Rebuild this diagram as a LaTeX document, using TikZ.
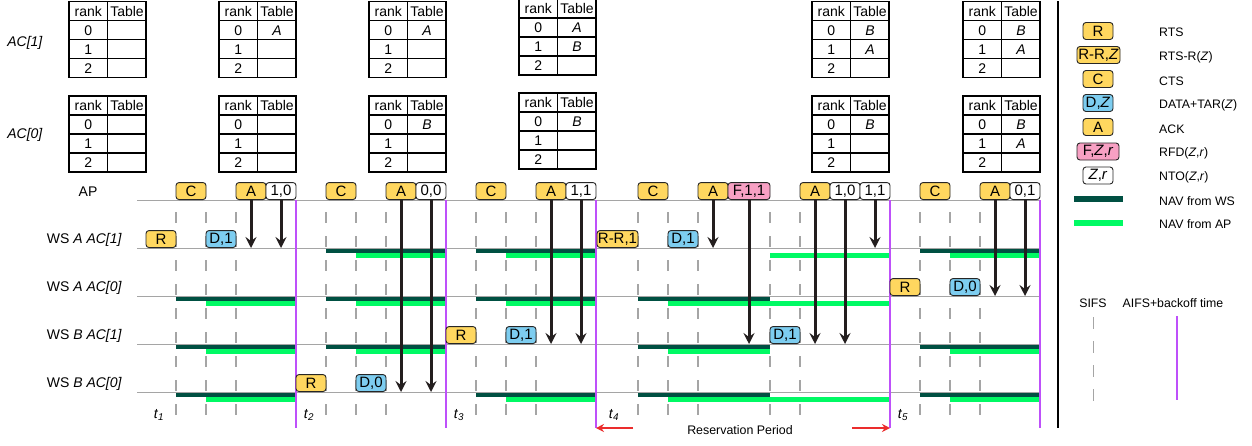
\documentclass[tikz,border=0pt]{standalone}
\usepackage{fontspec}
\setmainfont{Liberation Sans}
\usetikzlibrary{arrows.meta}
\definecolor{yel}{RGB}{255,215,95}
\definecolor{blu}{RGB}{125,205,240}
\definecolor{pnk}{RGB}{247,160,195}
\definecolor{navws}{RGB}{0,80,66}
\definecolor{navap}{RGB}{0,250,100}
\definecolor{purp}{RGB}{190,80,250}
\definecolor{redar}{RGB}{235,45,45}
\definecolor{rowgray}{RGB}{165,165,165}
\definecolor{arrblk}{RGB}{35,30,30}
\newcommand{\pktf}{\fontsize{15}{17}\selectfont}
\newcommand{\tabf}{\fontsize{14}{16}\selectfont}
\newcommand{\lblf}{\fontsize{14}{16}\selectfont}
\newcommand{\lgf}{\fontsize{12.3}{14}\selectfont}
\tikzset{
  pkt/.style={draw=black!85, line width=0.9pt, rounded corners=3pt, minimum height=17pt, minimum width=30pt, inner sep=0pt, font=\pktf, anchor=south},
  rowline/.style={draw=rowgray, line width=1pt},
  sifs/.style={draw=rowgray, line width=1.1pt, dash pattern=on 11pt off 13pt},
  aifs/.style={draw=purp, line width=1.4pt},
  arr/.style={draw=arrblk, line width=3pt, -{Stealth[length=11pt,width=11pt,inset=4pt]}},
  redarr/.style={draw=redar, line width=1.6pt, -{Stealth[length=8pt,width=8pt]}},
  tbl/.style={draw=black, line width=1.2pt},
  tt/.style={font=\tabf, inner sep=0pt},
  rl/.style={font=\lblf, inner sep=0pt},
  lg/.style={font=\lgf, inner sep=0pt, anchor=west},
}
\newcommand{\rtab}[6]{%
  \draw[tbl] (#1,#2) rectangle ++(77,76);
  \draw[tbl] (#1+38.7,#2) -- ++(0,76);
  \foreach \k in {19,38,57} \draw[tbl] (#1,#2+\k) -- ++(77,0);
  \node[tt] (#3h1) at (#1+19.35,#2+9.7) {rank};
  \node[tt] (#3h2) at (#1+58,#2+9.7) {Table};
  \node[tt] (#3r0) at (#1+19.35,#2+28.7) {0};
  \node[tt] (#3r1) at (#1+19.35,#2+47.7) {1};
  \node[tt] (#3r2) at (#1+19.35,#2+66.7) {2};
  \node[tt] (#3v0) at (#1+58,#2+28.7) {\textit{#4}};
  \node[tt] (#3v1) at (#1+58,#2+47.7) {\textit{#5}};
  \node[tt] (#3v2) at (#1+58,#2+66.7) {\textit{#6}};
}
\begin{document}
\begin{tikzpicture}[x=1pt,y=-1pt]
\useasboundingbox (0,0) rectangle (1252,445);
\fill[white] (0,0) rectangle (1252,445);

% ---------- tables ----------
\node[rl] (lac1) at (25,43) {\textit{AC[1]}};
\node[rl] (lac0) at (25,135) {\textit{AC[0]}};
\rtab{69}{1.5}{ta}{}{}{}
\rtab{69}{96}{tb}{}{}{}
\rtab{219}{1.5}{tc}{A}{}{}
\rtab{219}{96}{td}{}{}{}
\rtab{369}{1.5}{te}{A}{}{}
\rtab{369}{96}{tf}{B}{}{}
\rtab{519}{-1}{tg}{A}{B}{}
\rtab{519}{93}{th}{B}{}{}
\rtab{812}{1.5}{ti}{B}{A}{}
\rtab{812}{96}{tj}{B}{}{}
\rtab{963}{1.5}{tk}{B}{A}{}
\rtab{963}{96}{tl}{B}{A}{}

% ---------- row labels ----------
\node[rl] (lap) at (88,191.5) {AP};
\node[rl,anchor=east] (lwa1) at (122,239.5) {WS \textit{A AC[1]}};
\node[rl,anchor=east] (lwa0) at (122,287.5) {WS \textit{A AC[0]}};
\node[rl,anchor=east] (lwb1) at (122,335.5) {WS \textit{B AC[1]}};
\node[rl,anchor=east] (lwb0) at (122,383.5) {WS \textit{B AC[0]}};

% ---------- SIFS dashes ----------
\foreach \x in {176,206,236,326,356,386,476,506,536,638,668,698,770,800,920,950,980}
  \draw[sifs] (\x,212) -- (\x,417);

% ---------- row lines ----------
\coordinate (rAP) at (137,200);
\coordinate (rA1) at (137,248);
\coordinate (rA0) at (137,296);
\coordinate (rB1) at (137,344);
\coordinate (rB0) at (137,392);
\foreach \r in {rAP,rA1,rA0,rB1,rB0}
  \draw[rowline] (\r) -- (\r -| 1040,0);

% ---------- NAV bars ----------
% period 1
\foreach \y in {296,344,392}{
  \fill[navws] (176,\y+0.5) rectangle (296,\y+5);
  \fill[navap] (206,\y+5) rectangle (296,\y+10);}
% period 2
\foreach \y in {248,296,344}{
  \fill[navws] (326,\y+0.5) rectangle (446,\y+5);
  \fill[navap] (356,\y+5) rectangle (446,\y+10);}
% period 3
\foreach \y in {248,296,392}{
  \fill[navws] (476,\y+0.5) rectangle (596,\y+5);
  \fill[navap] (506,\y+5) rectangle (596,\y+10);}
% period 4
\fill[navap] (770,253) rectangle (890,258);
\fill[navws] (638,296.5) rectangle (770,301);
\fill[navap] (668,301) rectangle (890,306);
\fill[navws] (638,344.5) rectangle (770,349);
\fill[navap] (668,349) rectangle (770,354);
\fill[navws] (638,392.5) rectangle (770,397);
\fill[navap] (668,397) rectangle (890,402);
% period 5
\foreach \y in {248,344,392}{
  \fill[navws] (920,\y+0.5) rectangle (1040,\y+5);
  \fill[navap] (950,\y+5) rectangle (1040,\y+10);}

% ---------- AIFS lines ----------
\foreach \n/\x in {1/296,2/446,3/596,4/890,5/1040}{
  \coordinate (v\n t) at (\x,200);
  \coordinate (v\n b) at (\x,428);
  \draw[aifs] (v\n t) -- (v\n b);}

% ---------- packets ----------
% period 1
\node[pkt,fill=yel] (p1R) at (161,248) {R};
\node[pkt,fill=yel] (p1C) at (191,200) {C};
\node[pkt,fill=blu] (p1D) at (221,248) {D,1};
\node[pkt,fill=yel] (p1A) at (251,200) {A};
\node[pkt,fill=white] (p1N) at (281,200) {1,0};
% period 2
\node[pkt,fill=yel] (p2R) at (311,392) {R};
\node[pkt,fill=yel] (p2C) at (341,200) {C};
\node[pkt,fill=blu] (p2D) at (371,392) {D,0};
\node[pkt,fill=yel] (p2A) at (401,200) {A};
\node[pkt,fill=white] (p2N) at (431,200) {0,0};
% period 3
\node[pkt,fill=yel] (p3R) at (461,344) {R};
\node[pkt,fill=yel] (p3C) at (491,200) {C};
\node[pkt,fill=blu] (p3D) at (521,344) {D,1};
\node[pkt,fill=yel] (p3A) at (551,200) {A};
\node[pkt,fill=white] (p3N) at (581,200) {1,1};
% period 4
\node[pkt,fill=yel,minimum width=41pt] (p4RR) at (617.5,248) {R-R,1};
\node[pkt,fill=yel] (p4C) at (653,200) {C};
\node[pkt,fill=blu] (p4D) at (683,248) {D,1};
\node[pkt,fill=yel] (p4A) at (713,200) {A};
\node[pkt,fill=pnk,minimum width=42pt] (p4F) at (749,200) {F,1,1};
\node[pkt,fill=blu] (p4D2) at (785,344) {D,1};
\node[pkt,fill=yel] (p4A2) at (815,200) {A};
\node[pkt,fill=white] (p4N1) at (845,200) {1,0};
\node[pkt,fill=white] (p4N2) at (875,200) {1,1};
% period 5
\node[pkt,fill=yel] (p5R) at (905,296) {R};
\node[pkt,fill=yel] (p5C) at (935,200) {C};
\node[pkt,fill=blu] (p5D) at (965,296) {D,0};
\node[pkt,fill=yel] (p5A) at (995,200) {A};
\node[pkt,fill=white] (p5N) at (1025,200) {0,1};

% ---------- arrows ----------
\draw[arr] (p1A.south) -- (p1A.south |- rA1);
\draw[arr] (p1N.south) -- (p1N.south |- rA1);
\draw[arr] (p2A.south) -- (p2A.south |- rB0);
\draw[arr] (p2N.south) -- (p2N.south |- rB0);
\draw[arr] (p3A.south) -- (p3A.south |- rB1);
\draw[arr] (p3N.south) -- (p3N.south |- rB1);
\draw[arr] (p4A.south) -- (p4A.south |- rA1);
\draw[arr] (p4F.south) -- (p4F.south |- rB1);
\draw[arr] (p4A2.south) -- (p4A2.south |- rB1);
\draw[arr] (p4N1.south) -- (p4N1.south |- rB1);
\draw[arr] (p4N2.south) -- (p4N2.south |- rA1);
\draw[arr] (p5A.south) -- (p5A.south |- rA0);
\draw[arr] (p5N.south) -- (p5N.south |- rA0);

% ---------- time labels ----------
\node[rl] (t1) at (159,415) {\textit{t}\textsubscript{\textit{1}}};
\node[rl] (t2) at (309,415) {\textit{t}\textsubscript{\textit{2}}};
\node[rl] (t3) at (459,415) {\textit{t}\textsubscript{\textit{3}}};
\node[rl] (t4) at (614,415) {\textit{t}\textsubscript{\textit{4}}};
\node[rl] (t5) at (903,415) {\textit{t}\textsubscript{\textit{5}}};

% ---------- reservation period ----------
\node[font=\fontsize{12.4}{14}\selectfont, inner sep=0pt] (resp) at (740,430) {Reservation Period};
\coordinate (ral) at (633,428);
\coordinate (rar) at (852,428);
\draw[redarr] (ral) -- (v3b);
\draw[redarr] (rar) -- (v4b);

% ---------- legend ----------
\coordinate (sept) at (1058,1);
\coordinate (sepb) at (1058,428);
\draw[black, line width=1.6pt] (sept) -- (sepb);
\node[pkt,fill=yel,anchor=center] (lgR) at (1098,31) {R};
\node[pkt,fill=yel,anchor=center,minimum width=43pt] (lgRR) at (1098.5,55) {R-R,\textit{Z}};
\node[pkt,fill=yel,anchor=center] (lgC) at (1098,79) {C};
\node[pkt,fill=blu,anchor=center] (lgD) at (1098,103) {D,\textit{Z}};
\node[pkt,fill=yel,anchor=center] (lgA) at (1098,127) {A};
\node[pkt,fill=pnk,anchor=center,minimum width=42pt] (lgF) at (1098,151.5) {F,\textit{Z},\textit{r}};
\node[pkt,fill=white,anchor=center] (lgN) at (1098,175.5) {\textit{Z},\textit{r}};
\fill[navws] (1074,196) rectangle (1123,201.5);
\fill[navap] (1074,220) rectangle (1123,226);
\node[lg] (lgt1) at (1159,32) {RTS};
\node[lg] (lgt2) at (1159,57) {RTS-R(\textit{Z})};
\node[lg] (lgt3) at (1159,81) {CTS};
\node[lg] (lgt4) at (1159,105) {DATA+TAR(\textit{Z})};
\node[lg] (lgt5) at (1159,129) {ACK};
\node[lg] (lgt6) at (1159,153) {RFD(\textit{Z},\textit{r})};
\node[lg] (lgt7) at (1159,177) {NTO(\textit{Z},\textit{r})};
\node[lg] (lgt8) at (1159,201) {NAV from WS};
\node[lg] (lgt9) at (1159,224) {NAV from AP};
\node[font=\lgf, inner sep=0pt] (lgsifs) at (1093,303) {SIFS};
\node[font=\lgf, inner sep=0pt] (lgaifs) at (1173,303) {AIFS+backoff time};
\coordinate (lgst) at (1093,317);
\coordinate (lgsb) at (1093,401);
\draw[rowline, dash pattern=on 11.5pt off 12.5pt] (lgst) -- (lgsb);
\coordinate (lgat) at (1177,316);
\coordinate (lgab) at (1177,400);
\draw[aifs] (lgat) -- (lgab);
\end{tikzpicture}
\end{document}
